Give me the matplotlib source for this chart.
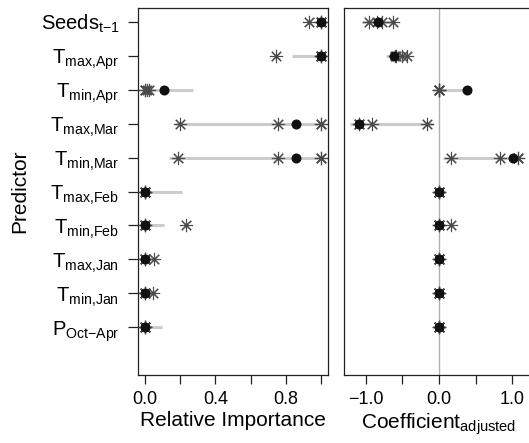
import matplotlib
matplotlib.use('Agg')
import matplotlib.pyplot as plt

plt.rcParams['font.family'] = ['Liberation Sans', 'DejaVu Sans']
plt.rcParams['mathtext.fontset'] = 'custom'
plt.rcParams['mathtext.rm'] = 'Liberation Sans'
plt.rcParams['mathtext.it'] = 'Liberation Sans'

# predictors, top to bottom
predictors = [r'$\mathrm{Seeds}_{\mathrm{t{-}1}}$',
              r'$\mathrm{T}_{\mathrm{max{,}Apr}}$',
              r'$\mathrm{T}_{\mathrm{min{,}Apr}}$',
              r'$\mathrm{T}_{\mathrm{max{,}Mar}}$',
              r'$\mathrm{T}_{\mathrm{min{,}Mar}}$',
              r'$\mathrm{T}_{\mathrm{max{,}Feb}}$',
              r'$\mathrm{T}_{\mathrm{min{,}Feb}}$',
              r'$\mathrm{T}_{\mathrm{max{,}Jan}}$',
              r'$\mathrm{T}_{\mathrm{min{,}Jan}}$',
              r'$\mathrm{P}_{\mathrm{Oct{-}Apr}}$']
y_pos = [11, 10, 9, 8, 7, 6, 5, 4, 3, 2]

# relative importance: single models (asterisks), averaged (dot), interval (grey line)
imp_models = [[0.93, 1.0, 1.0, 1.0],
              [0.745, 1.0, 1.0, 1.0],
              [0.0, 0.01, 0.025, 0.0],
              [0.20, 0.755, 1.0, 1.0],
              [0.19, 0.755, 1.0, 1.0],
              [0.0, 0.0, 0.0, 0.0],
              [0.0, 0.0, 0.0, 0.233],
              [0.0, 0.0, 0.0, 0.053],
              [0.0, 0.0, 0.0, 0.047],
              [0.0, 0.0, 0.0, 0.0]]
imp_avg = [1.0, 1.0, 0.11, 0.86, 0.86, 0.0, 0.0, 0.0, 0.0, 0.0]
imp_lo = [0.97, 0.835, 0.0, 0.17, 0.138, 0.0, 0.0, 0.0, 0.0, 0.0]
imp_hi = [1.0, 1.0, 0.27, 1.0, 1.0, 0.21, 0.11, 0.0, 0.0, 0.095]

# adjusted coefficients
coef_models = [[-0.95, -0.84, -0.78, -0.63],
               [-0.60, -0.58, -0.51, -0.44],
               [0.0, 0.0, 0.0, 0.0],
               [-1.09, -1.09, -0.92, -0.16],
               [0.16, 0.83, 1.08, 1.08],
               [0.0, 0.0, 0.0, 0.0],
               [0.0, 0.0, 0.0, 0.16],
               [0.0, 0.0, 0.0, 0.0],
               [0.0, 0.0, 0.0, 0.0],
               [0.0, 0.0, 0.0, 0.0]]
coef_avg = [-0.83, -0.62, 0.38, -1.09, 1.01, 0.0, 0.0, 0.0, 0.0, 0.0]
coef_lo = [-1.05, -0.72, 0.0, -1.22, 0.06, -0.03, 0.0, 0.0, 0.0, 0.0]
coef_hi = [-0.63, -0.44, 0.38, -0.08, 1.08, 0.0, 0.0, 0.0, 0.0, 0.0]

W, H = 529, 443
fig = plt.figure(figsize=(W / 100, H / 100), dpi=100)
ax1 = fig.add_axes([138 / W, 68 / H, 190 / W, 367 / H])
ax2 = fig.add_axes([344 / W, 68 / H, 190 / W, 367 / H])

star = (8, 2, 0)
line_col = '#cccccc'
star_col = '#4a4a4a'


def draw_panel(ax, models, avg, lo, hi):
    for i, y in enumerate(y_pos):
        ax.plot([lo[i], hi[i]], [y, y], color=line_col, lw=2.2, solid_capstyle='butt', zorder=2)
        ax.plot(models[i], [y] * len(models[i]), linestyle='none', marker=star,
                markersize=9.5, markeredgewidth=0.8, markeredgecolor=star_col, zorder=3)
        ax.plot([avg[i]], [y], linestyle='none', marker='o', markersize=6.2,
                color='#111111', zorder=4)
    ax.set_ylim(0.6, 11.4)
    for s in ax.spines.values():
        s.set_linewidth(0.9)
        s.set_color('#222222')
    ax.tick_params(axis='both', direction='out', length=6.5, width=0.9,
                   labelsize=13, color='#222222')
    ax.tick_params(axis='x', pad=5)


draw_panel(ax1, imp_models, imp_avg, imp_lo, imp_hi)
ax1.set_xlim(-0.04, 1.04)
ax1.set_xticks([0, 0.2, 0.4, 0.6, 0.8, 1.0])
ax1.set_xticklabels(['0.0', '', '0.4', '', '0.8', ''])
ax1.set_yticks(y_pos)
ax1.set_yticklabels(predictors)
ax1.tick_params(axis='y', length=7.5, pad=6, labelsize=14.5)
ax1.set_xlabel('Relative Importance', fontsize=15, labelpad=2)
ax1.set_ylabel('Predictor', fontsize=15)
ax1.yaxis.set_label_coords(-0.57, 0.5)

ax2.axvline(0, color='#b0b0b0', lw=1.0, zorder=1)
draw_panel(ax2, coef_models, coef_avg, coef_lo, coef_hi)
ax2.set_xlim(-1.296, 1.296)
ax2.set_xticks([-1.0, -0.5, 0.0, 0.5, 1.0])
ax2.set_xticklabels(['\u22121.0', '', '0.0', '', '1.0'])
ax2.set_yticks([])
ax2.set_xlabel(r'Coefficient$_{\mathrm{adjusted}}$', fontsize=15, labelpad=2)
ax2.xaxis.set_label_coords(0.5, -0.1)

fig.savefig('out.png', dpi=100)
